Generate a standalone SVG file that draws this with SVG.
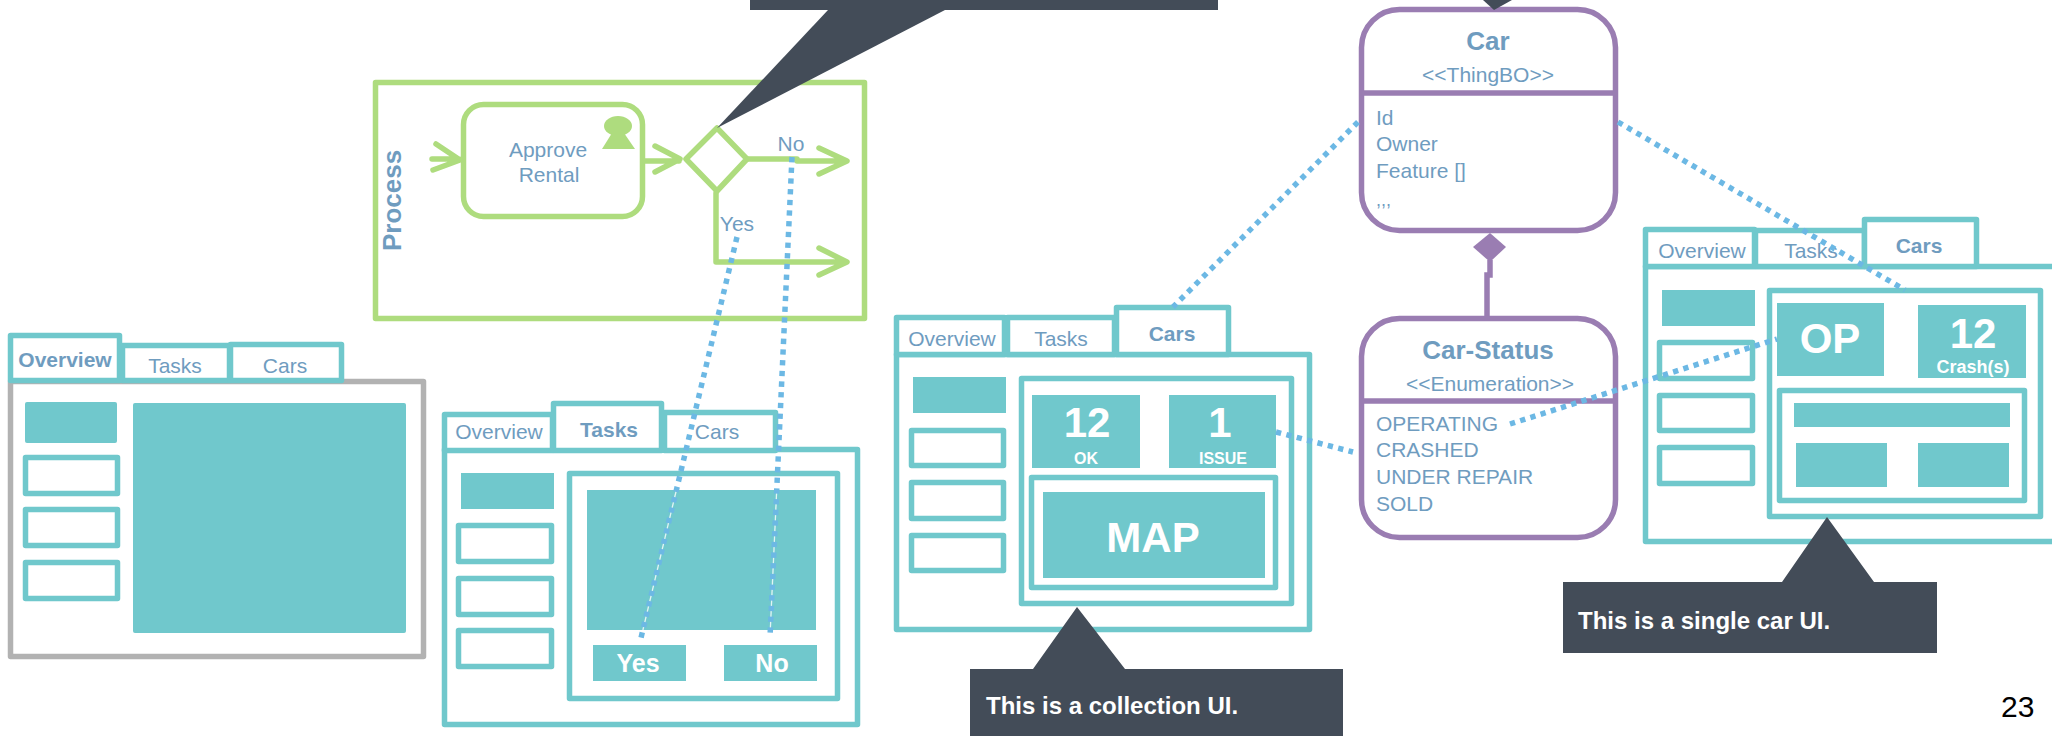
<svg xmlns="http://www.w3.org/2000/svg" width="2052" height="736" viewBox="0 0 2052 736">
<style>
text{font-family:"Liberation Sans",Arial,sans-serif;fill:#6f9cbf;font-size:21px}
.m{text-anchor:middle}
.b{font-weight:700}
.w{fill:#fff;font-weight:700;text-anchor:middle}
.box{fill:#fff;stroke:#70c8cc;stroke-width:5.5;stroke-linejoin:round}
.gray{fill:#fff;stroke:#b2b2b2;stroke-width:5.5;stroke-linejoin:round}
.fill{fill:#70c8cc}
.g{fill:none;stroke:#aedc7e;stroke-width:5.5;stroke-linecap:round;stroke-linejoin:round}
.cls{fill:#fff;stroke:#9a7db2;stroke-width:5.5}
.p{fill:none;stroke:#9a7db2;stroke-width:5.5}
.dot{fill:none;stroke:#6cb8e4;stroke-width:5.5;stroke-dasharray:5.3 5.4}
.thin{fill:none;stroke:#fff;stroke-width:1.3;stroke-opacity:.8}
.call{fill:#434c58}
.ct{fill:#fff;font-weight:700;font-size:24px}
</style>
<g id="ui-overview">
<rect class="gray" x="10.5" y="381.5" width="413" height="275"/>
<rect class="box" x="122.5" y="345.5" width="107" height="35"/>
<rect class="box" x="230.5" y="344.5" width="111" height="36"/>
<rect class="box" x="10.5" y="335.5" width="109" height="45"/>
<text class="b m" x="65" y="367">Overview</text>
<text class="m" x="175" y="373">Tasks</text>
<text class="m" x="285" y="373">Cars</text>
<rect class="fill" x="25" y="402" width="92" height="41" rx="2"/>
<rect class="box" x="25.5" y="457.5" width="92" height="36"/>
<rect class="box" x="25.5" y="509.5" width="92" height="36"/>
<rect class="box" x="25.5" y="562.5" width="92" height="36"/>
<rect class="fill" x="133" y="403" width="273" height="230" rx="2"/>
</g>
<g id="process">
<rect class="g" x="375.5" y="82.5" width="489" height="236"/>
<rect class="g" x="463.5" y="104.5" width="179" height="112" rx="20"/>
<ellipse cx="618" cy="126" rx="14" ry="10" fill="#aedc7e"/>
<polygon points="612,133 624,133 635,149 602,149" fill="#aedc7e"/>
<text class="m" x="548" y="157">Approve</text>
<text class="m" x="549" y="182">Rental</text>
<text class="b" style="font-size:26px" transform="translate(401 251) rotate(-90)">Process</text>
<polygon class="g" points="686,159 717,128 747,159 717,191"/>
<path class="g" d="M432 159H459M436 144L460 160L433 170"/>
<path class="g" d="M645 161H679M655 146L680 159L655 172"/>
<path class="g" d="M748 159H797V161H846M819 148L847 161L819 174"/>
<path class="g" d="M716 193V262H846M819 248L847 262L819 275"/>
<text class="m" x="791" y="151">No</text>
<text class="m" x="737" y="231">Yes</text>
</g>
<g id="ui-tasks">
<rect class="box" x="444.5" y="449.5" width="413" height="275"/>
<rect class="box" x="444.5" y="414.5" width="108" height="36"/>
<rect class="box" x="664.5" y="412.5" width="111" height="38"/>
<rect class="box" x="553.5" y="403.5" width="108" height="47"/>
<text class="m" x="499" y="439">Overview</text>
<text class="b m" x="609" y="437">Tasks</text>
<text class="m" x="717" y="439">Cars</text>
<rect class="fill" x="461" y="473" width="93" height="36"/>
<rect class="box" x="458.5" y="525.5" width="93" height="36"/>
<rect class="box" x="458.5" y="578.5" width="93" height="36"/>
<rect class="box" x="458.5" y="630.5" width="93" height="36"/>
<rect class="box" x="569.5" y="473.5" width="268" height="225"/>
<rect class="fill" x="587" y="490" width="229" height="140"/>
<rect class="fill" x="593" y="645" width="93" height="36"/>
<rect class="fill" x="724" y="645" width="93" height="36"/>
<text class="w" style="font-size:25px" x="638" y="672">Yes</text>
<text class="w" style="font-size:25px" x="772" y="672">No</text>
</g>
<g id="ui-collection">
<rect class="box" x="896.5" y="354.5" width="413" height="275"/>
<rect class="box" x="896.5" y="317.5" width="108" height="37"/>
<rect class="box" x="1007.5" y="317.5" width="107" height="37"/>
<rect class="box" x="1116.5" y="307.5" width="112" height="47"/>
<text class="m" x="952" y="346">Overview</text>
<text class="m" x="1061" y="346">Tasks</text>
<text class="b m" x="1172" y="341">Cars</text>
<rect class="fill" x="913" y="377" width="93" height="36"/>
<rect class="box" x="911.5" y="430.5" width="92" height="35"/>
<rect class="box" x="911.5" y="482.5" width="92" height="36"/>
<rect class="box" x="911.5" y="535.5" width="92" height="35"/>
<rect class="box" x="1021.5" y="378.5" width="270" height="225"/>
<rect class="fill" x="1032" y="395" width="108" height="73"/>
<rect class="fill" x="1169" y="395" width="107" height="73"/>
<text class="w" style="font-size:42px" x="1087" y="437">12</text>
<text class="w" style="font-size:16px" x="1086" y="464">OK</text>
<text class="w" style="font-size:42px" x="1220" y="437">1</text>
<text class="w" style="font-size:16px" x="1223" y="464">ISSUE</text>
<rect class="box" x="1031.5" y="477.5" width="244" height="110"/>
<rect class="fill" x="1043" y="492" width="222" height="86"/>
<text class="w" style="font-size:42px" x="1153" y="552">MAP</text>
</g>
<g id="ui-single">
<rect class="box" x="1645.5" y="266.5" width="420" height="275"/>
<rect class="box" x="1645.5" y="229.5" width="109" height="37"/>
<rect class="box" x="1755.5" y="230.5" width="109" height="36"/>
<rect class="box" x="1864.5" y="219.5" width="112" height="47"/>
<text class="m" x="1702" y="258">Overview</text>
<text class="m" x="1811" y="258">Tasks</text>
<text class="b m" x="1919" y="253">Cars</text>
<rect class="fill" x="1662" y="290" width="93" height="36"/>
<rect class="box" x="1659.5" y="342.5" width="93" height="36"/>
<rect class="box" x="1659.5" y="395.5" width="93" height="35"/>
<rect class="box" x="1659.5" y="447.5" width="93" height="36"/>
<rect class="box" x="1769.5" y="290.5" width="271" height="226"/>
<rect class="fill" x="1777" y="303" width="107" height="73"/>
<rect class="fill" x="1918" y="305" width="108" height="73"/>
<text class="w" style="font-size:42px" x="1830" y="353">OP</text>
<text class="w" style="font-size:42px" x="1973" y="348">12</text>
<text class="w" style="font-size:18px" x="1973" y="373">Crash(s)</text>
<rect class="box" x="1779.5" y="390.5" width="245" height="110"/>
<rect class="fill" x="1794" y="403" width="216" height="24"/>
<rect class="fill" x="1796" y="443" width="91" height="44"/>
<rect class="fill" x="1918" y="443" width="91" height="44"/>
</g>
<g id="class-car">
<rect class="cls" x="1361.5" y="9.5" width="254" height="221" rx="38"/>
<path class="p" d="M1361 93H1616"/>
<text class="b m" style="font-size:26px" x="1488" y="50">Car</text>
<text class="m" x="1488" y="82">&lt;&lt;ThingBO&gt;&gt;</text>
<text x="1376" y="125">Id</text>
<text x="1376" y="151">Owner</text>
<text x="1376" y="178">Feature []</text>
<text x="1376" y="206" style="font-size:18px">,,,</text>
</g>
<g id="class-car-status">
<rect class="cls" x="1361.5" y="318.5" width="254" height="219" rx="38"/>
<path class="p" d="M1361 401H1616"/>
<text class="b m" style="font-size:26px" x="1488" y="359">Car-Status</text>
<text class="m" x="1490" y="391">&lt;&lt;Enumeration&gt;&gt;</text>
<text x="1376" y="431">OPERATING</text>
<text x="1376" y="457">CRASHED</text>
<text x="1376" y="484">UNDER REPAIR</text>
<text x="1376" y="511">SOLD</text>
</g>
<g id="connectors">
<path class="p" d="M1490 260V275H1487V317"/>
<polygon points="1473,247 1490,233 1506,247 1490,262" fill="#9a7db2"/>
<path class="thin" d="M676.4 490L642.9 630"/>
<path class="thin" d="M776.7 490L770.3 630"/>
<path class="dot" d="M737 237L640 642"/>
<path class="dot" d="M792 157L770 637"/>
<path class="dot" d="M1276 432L1353 452"/>
<path class="dot" d="M1358 122L1173 307"/>
<path class="dot" d="M1618 122L1905 290"/>
<path class="dot" d="M1510 424L1777 339"/>
</g>
<g id="callout-gateway">
<rect class="call" x="750" y="0" width="468" height="10"/>
<polygon class="call" points="828,10 717,128 945,10"/>
</g>
<g id="callout-car">
<polygon class="call" points="1483,0 1494,10 1512,0"/>
</g>
<g id="callout-collection">
<polygon class="call" points="970,669 1033,669 1077,607 1125,669 1343,669 1343,736 970,736"/>
<text class="ct" x="986" y="714">This is a collection UI.</text>
</g>
<g id="callout-single">
<polygon class="call" points="1563,582 1782,582 1827,517 1874,582 1937,582 1937,653 1563,653"/>
<text class="ct" x="1578" y="629">This is a single car UI.</text>
</g>
<text x="2001" y="717" style="font-size:30px;fill:#000">23</text>
</svg>
